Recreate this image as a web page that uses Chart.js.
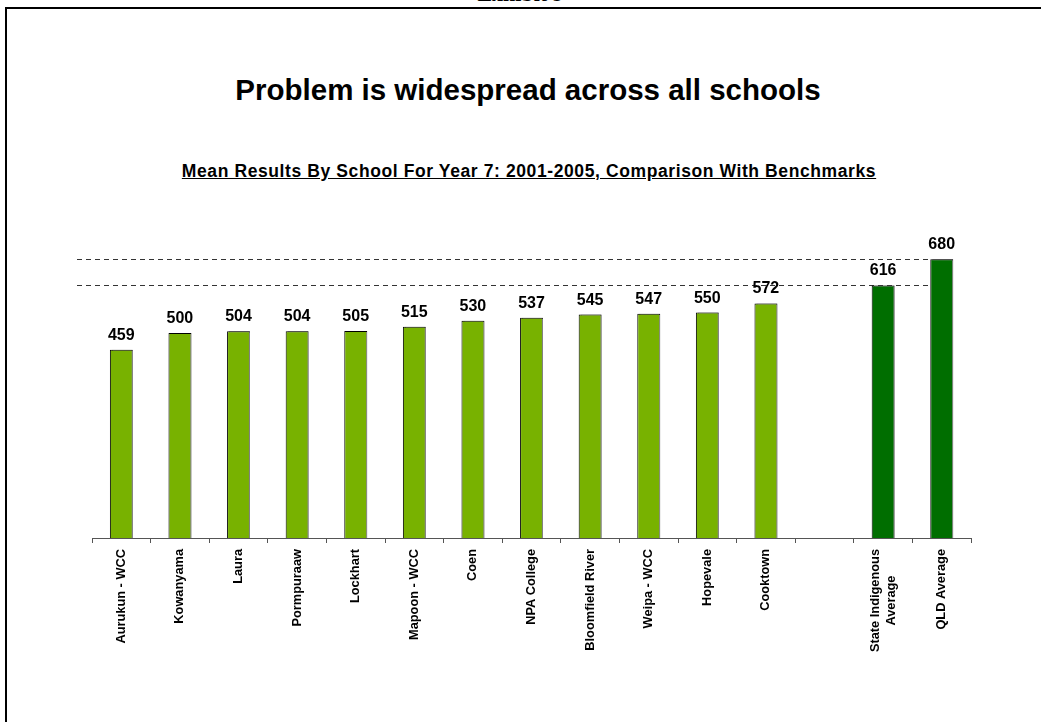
<!DOCTYPE html>
<html>
<head>
<meta charset="utf-8">
<script src="https://cdn.jsdelivr.net/npm/chart.js@4/dist/chart.umd.min.js"></script>
<style>
  body { margin: 0; background: #fff; overflow: hidden; }
  #wrap { position: relative; width: 1041px; height: 722px; overflow: hidden; }
  #frame { position: absolute; left: 5px; top: 7px; width: 1100px; height: 800px; border: 2px solid #000; }
  #exhibit { position: absolute; left: 0; width: 1041px; top: -17px; text-align: center;
    font: bold 22px "Liberation Serif", "Times New Roman", serif; line-height: 22px; }
  #title { position: absolute; left: 0; width: 1056px; top: 75px; text-align: center;
    font: bold 29.5px "Liberation Sans", Arial, sans-serif; line-height: 29px; }
  #subtitle { position: absolute; left: 0; width: 1058px; top: 162px; text-align: center; letter-spacing: 0.6px;
    font: bold 17.5px "Liberation Sans", Arial, sans-serif; line-height: 18px; text-decoration: underline; }
  canvas { position: absolute; left: 0; top: 0; }
</style>
</head>
<body>
<div id="wrap">
  <div id="exhibit">Exhibit 9</div>
  <div id="frame"></div>
  <div id="title">Problem is widespread across all schools</div>
  <div id="subtitle">Mean Results By School For Year 7: 2001-2005, Comparison With Benchmarks</div>
  <canvas id="chart" width="1041" height="722"></canvas>
</div>
<script>
// schools, then an empty gap, then the two benchmarks
const categories = ['Aurukun - WCC', 'Kowanyama', 'Laura', 'Pormpuraaw', 'Lockhart', 'Mapoon - WCC',
    'Coen', 'NPA College', 'Bloomfield River', 'Weipa - WCC', 'Hopevale', 'Cooktown', '',
    ['State Indigenous', 'Average'], 'QLD Average'];
const scores = [459, 500, 504, 504, 505, 515, 530, 537, 545, 547, 550, 572, null, 616, 680];
const benchmark = [false, false, false, false, false, false, false, false, false, false, false, false, false, true, true];
const benchmarkLines = [616, 680];

const schoolGreen = '#78b200';
const benchGreen = '#006e00';

// dashed benchmark lines behind the bars, value labels, vertical category labels
const benchLinePlugin = {
    id: 'benchLines',
    beforeDatasetsDraw(chart) {
        const ctx = chart.ctx;
        const y = chart.scales.y;
        const meta = chart.getDatasetMeta(0);
        const last = meta.data[meta.data.length - 1];
        const right = last.x - last.width / 2;
        ctx.save();
        ctx.strokeStyle = '#333';
        ctx.lineWidth = 1;
        ctx.setLineDash([5, 4]);
        benchmarkLines.forEach(v => {
            const py = Math.round(y.getPixelForValue(v)) + 0.5;
            ctx.beginPath();
            ctx.moveTo(chart.chartArea.left - 15, py);
            ctx.lineTo(right, py);
            ctx.stroke();
        });
        ctx.restore();
        // little gray shadow on the right of bars
        ctx.save();
        ctx.shadowColor = '#8a8a8a';
        ctx.shadowOffsetX = 2;
        ctx.shadowOffsetY = 0;
        ctx.shadowBlur = 0;
    },
    afterDatasetsDraw(chart) {
        const ctx = chart.ctx;
        ctx.restore();
        const meta = chart.getDatasetMeta(0);
        ctx.save();
        ctx.fillStyle = '#000';
        ctx.font = 'bold 16px "Liberation Sans", Arial, sans-serif';
        ctx.textAlign = 'center';
        ctx.textBaseline = 'alphabetic';
        meta.data.forEach((bar, i) => {
            if (scores[i] == null) return;
            ctx.fillText(String(scores[i]), bar.x, bar.y - 10);
        });
        ctx.restore();
    },
    afterDraw(chart) {
        const ctx = chart.ctx;
        const x = chart.scales.x;
        const top = chart.chartArea.bottom + 11;
        ctx.save();
        ctx.fillStyle = '#000';
        ctx.font = 'bold 12.8px "Liberation Sans", Arial, sans-serif';
        ctx.textAlign = 'center';
        ctx.textBaseline = 'middle';
        categories.forEach((lab, i) => {
            const lines = Array.isArray(lab) ? lab : [lab];
            if (!lines[0]) return;
            const maxW = Math.max(...lines.map(l => ctx.measureText(l).width));
            const cx = x.getPixelForValue(i);
            const lineH = 16;
            ctx.save();
            ctx.translate(cx, top + maxW / 2);
            ctx.rotate(-Math.PI / 2);
            lines.forEach((l, k) => {
                ctx.fillText(l, 0, (k - (lines.length - 1) / 2) * lineH);
            });
            ctx.restore();
        });
        ctx.restore();
    }
};

new Chart(document.getElementById('chart'), {
    type: 'bar',
    data: {
        labels: categories,
        datasets: [{
            data: scores,
            backgroundColor: benchmark.map(b => b ? benchGreen : schoolGreen),
            borderColor: '#000',
            borderWidth: 1,
            barPercentage: 0.39,
            categoryPercentage: 1
        }]
    },
    options: {
        responsive: false,
        animation: false,
        layout: { padding: { left: 92, right: 70, top: 251, bottom: 0 } },
        plugins: {
            legend: { display: false },
            tooltip: { enabled: false }
        },
        scales: {
            x: {
                afterFit: scale => { scale.height = 184; },
                ticks: { display: false },
                grid: { display: true, drawOnChartArea: false, drawTicks: true, tickLength: 5, color: '#555' },
                border: { display: true, color: '#555', width: 1 }
            },
            y: {
                display: false,
                min: 0,
                max: 700
            }
        }
    },
    plugins: [benchLinePlugin]
});
</script>
</body>
</html>
